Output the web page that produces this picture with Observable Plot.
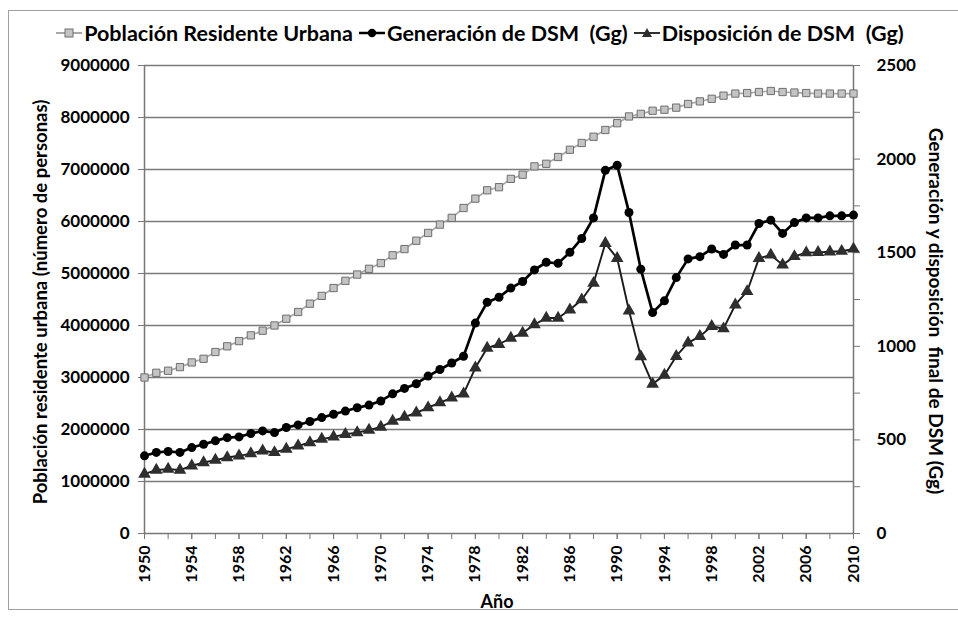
<!DOCTYPE html>
<html><head><meta charset="utf-8">
<script src="https://cdn.jsdelivr.net/npm/d3@7"></script>
<script src="https://cdn.jsdelivr.net/npm/@observablehq/plot@0.6"></script>
<style>
body{margin:0;background:#fff;}
#wrap{position:relative;width:958px;height:619px;overflow:hidden;font-family:Lato,"Liberation Sans",sans-serif;font-weight:bold;color:#000;}
#wrap > svg{position:absolute;left:0;top:0;}
#frame{position:absolute;left:8px;top:10px;width:980px;height:598px;border:1.5px solid #a0a0a0;}
.rt{position:absolute;white-space:pre;transform-origin:center center;}
#legend{position:absolute;top:20px;left:0;width:958px;display:flex;justify-content:center;align-items:center;font-size:21.5px;white-space:pre;}
#legend .it{display:flex;align-items:center;margin:0 2px;}
#legend svg{flex:none;}
</style></head>
<body>
<div id="wrap">
<div id="frame"></div>
<div id="legend"></div>
<div class="rt" id="ytl" style="left:40px;top:302px;font-size:18.5px;transform:translate(-50%,-50%) rotate(-90deg);">Población residente urbana (número de personas)</div>
<div class="rt" id="ytr" style="left:936px;top:311px;font-size:19px;transform:translate(-50%,-50%) rotate(90deg);">Generación y disposición  final de DSM (Gg)</div>
<div class="rt" style="left:497px;top:601px;font-size:18px;transform:translate(-50%,-50%);">Año</div>
</div>
<script>
const years = [1950,1951,1952,1953,1954,1955,1956,1957,1958,1959,1960,1961,1962,1963,1964,1965,1966,1967,1968,1969,1970,1971,1972,1973,1974,1975,1976,1977,1978,1979,1980,1981,1982,1983,1984,1985,1986,1987,1988,1989,1990,1991,1992,1993,1994,1995,1996,1997,1998,1999,2000,2001,2002,2003,2004,2005,2006,2007,2008,2009,2010];
const population = [3000000,3090000,3130000,3200000,3290000,3360000,3490000,3600000,3700000,3810000,3900000,4000000,4130000,4260000,4420000,4570000,4720000,4860000,4980000,5090000,5200000,5350000,5470000,5630000,5780000,5940000,6070000,6260000,6440000,6600000,6660000,6820000,6900000,7060000,7110000,7240000,7380000,7510000,7630000,7760000,7890000,8020000,8070000,8130000,8150000,8190000,8260000,8310000,8360000,8420000,8460000,8470000,8490000,8510000,8490000,8480000,8470000,8460000,8460000,8460000,8460000];
const generation = [415,433,438,433,459,477,495,512,516,534,548,539,566,580,598,619,637,654,672,686,708,746,775,800,841,876,911,947,1124,1235,1262,1311,1346,1408,1449,1443,1502,1576,1686,1940,1967,1715,1412,1180,1243,1367,1467,1479,1520,1491,1541,1541,1656,1674,1603,1661,1686,1686,1697,1697,1701];
const disposal = [318,339,344,339,362,379,392,406,415,427,442,433,451,468,486,504,516,530,539,552,569,601,622,645,672,699,725,746,885,991,1011,1044,1071,1116,1151,1151,1195,1249,1337,1550,1470,1190,945,798,846,947,1018,1053,1107,1094,1222,1293,1470,1488,1435,1480,1500,1502,1505,1508,1520];
const seriesNames = ["Población Residente Urbana","Generación de DSM  (Gg)","Disposición de DSM  (Gg)"];
const leftTicks = [0,1000000,2000000,3000000,4000000,5000000,6000000,7000000,8000000,9000000];
const rightTicks = [0,250,500,750,1000,1250,1500,1750,2000,2250,2500];
const rightLabels = [0,500,1000,1500,2000,2500];
const xLabels = [1950,1954,1958,1962,1966,1970,1974,1978,1982,1986,1990,1994,1998,2002,2006,2010];
const xMinor = [1950,1952,1954,1956,1958,1960,1962,1964,1966,1968,1970,1972,1974,1976,1978,1980,1982,1984,1986,1988,1990,1992,1994,1996,1998,2000,2002,2004,2006,2008,2010];

const K = 9000000 / 2500;
const rows = years.map((y, i) => ({year: y, pop: population[i], gen: generation[i], disp: disposal[i]}));
const axisCol = "#777";

const chart = Plot.plot({
  width: 958, height: 619,
  marginLeft: 144, marginRight: 105, marginTop: 65, marginBottom: 86,
  style: {fontFamily: "Lato, 'Liberation Sans', sans-serif", fontWeight: "bold", fontSize: "17px", color: "#000", background: "transparent"},
  x: {domain: [1950, 2010]},
  y: {domain: [0, 9000000]},
  marks: [
    Plot.gridY(leftTicks.slice(1), {stroke: "#7a7a7a", strokeOpacity: 1, strokeWidth: 1.5}),
    Plot.ruleX([1950, 2010], {stroke: axisCol, strokeWidth: 1.5}),
    Plot.ruleY([0], {stroke: axisCol, strokeWidth: 1.5}),
    Plot.axisY(leftTicks, {anchor: "left", tickSize: 6, tickPadding: 9, stroke: axisCol, tickFormat: d => String(d), label: null}),
    Plot.axisY(rightTicks.map(v => v * K), {anchor: "right", tickSize: 6, tickPadding: 17, stroke: axisCol, tickFormat: d => rightLabels.includes(Math.round(d / K)) ? String(Math.round(d / K)) : "", label: null}),
    Plot.axisX(xMinor, {anchor: "bottom", tickSize: 6, stroke: axisCol, tickFormat: () => "", label: null}),
    Plot.axisX(xLabels, {anchor: "bottom", tickSize: 6, tickPadding: 6, tickRotate: -90, stroke: axisCol, fontSize: 16, tickFormat: d => String(d), label: null}),
    Plot.line(rows, {x: "year", y: "pop", stroke: "#a8a8a8", strokeWidth: 1.7}),
    Plot.dot(rows, {x: "year", y: "pop", symbol: "square", r: 4.1, fill: "#c4c4c4", stroke: "#6e6e6e", strokeWidth: 1}),
    Plot.line(rows, {x: "year", y: d => d.disp * K, stroke: "#1a1a1a", strokeWidth: 1.9}),
    Plot.dot(rows, {x: "year", y: d => d.disp * K, symbol: "triangle", r: 4.7, fill: "#2e2e2e", stroke: "none"}),
    Plot.line(rows, {x: "year", y: d => d.gen * K, stroke: "#000", strokeWidth: 2.7}),
    Plot.dot(rows, {x: "year", y: d => d.gen * K, symbol: "circle", r: 4.5, fill: "#000", stroke: "none"})
  ]
});
document.getElementById("wrap").appendChild(chart);

// legend
const leg = document.getElementById("legend");
const swatch = (kind) => {
  const ns = "http://www.w3.org/2000/svg";
  const s = document.createElementNS(ns, "svg");
  s.setAttribute("width", 30); s.setAttribute("height", 14);
  const l = document.createElementNS(ns, "line");
  l.setAttribute("x1", 2); l.setAttribute("x2", 28); l.setAttribute("y1", 7); l.setAttribute("y2", 7);
  s.appendChild(l);
  let m;
  if (kind === 0) {
    l.setAttribute("stroke", "#a8a8a8"); l.setAttribute("stroke-width", 2);
    m = document.createElementNS(ns, "rect");
    m.setAttribute("x", 11); m.setAttribute("y", 3); m.setAttribute("width", 8); m.setAttribute("height", 8);
    m.setAttribute("fill", "#c4c4c4"); m.setAttribute("stroke", "#6e6e6e");
  } else if (kind === 1) {
    l.setAttribute("stroke", "#000"); l.setAttribute("stroke-width", 2.5);
    m = document.createElementNS(ns, "circle");
    m.setAttribute("cx", 15); m.setAttribute("cy", 7); m.setAttribute("r", 4.2); m.setAttribute("fill", "#000");
  } else {
    l.setAttribute("stroke", "#1a1a1a"); l.setAttribute("stroke-width", 1.8);
    m = document.createElementNS(ns, "path");
    m.setAttribute("d", "M15,2 L20,11 L10,11 Z"); m.setAttribute("fill", "#2e2e2e");
  }
  s.appendChild(m);
  return s;
};
seriesNames.forEach((name, i) => {
  const it = document.createElement("span");
  it.className = "it";
  it.appendChild(swatch(i));
  const t = document.createElement("span");
  t.textContent = name;
  it.appendChild(t);
  leg.appendChild(it);
});
</script>
</body></html>
